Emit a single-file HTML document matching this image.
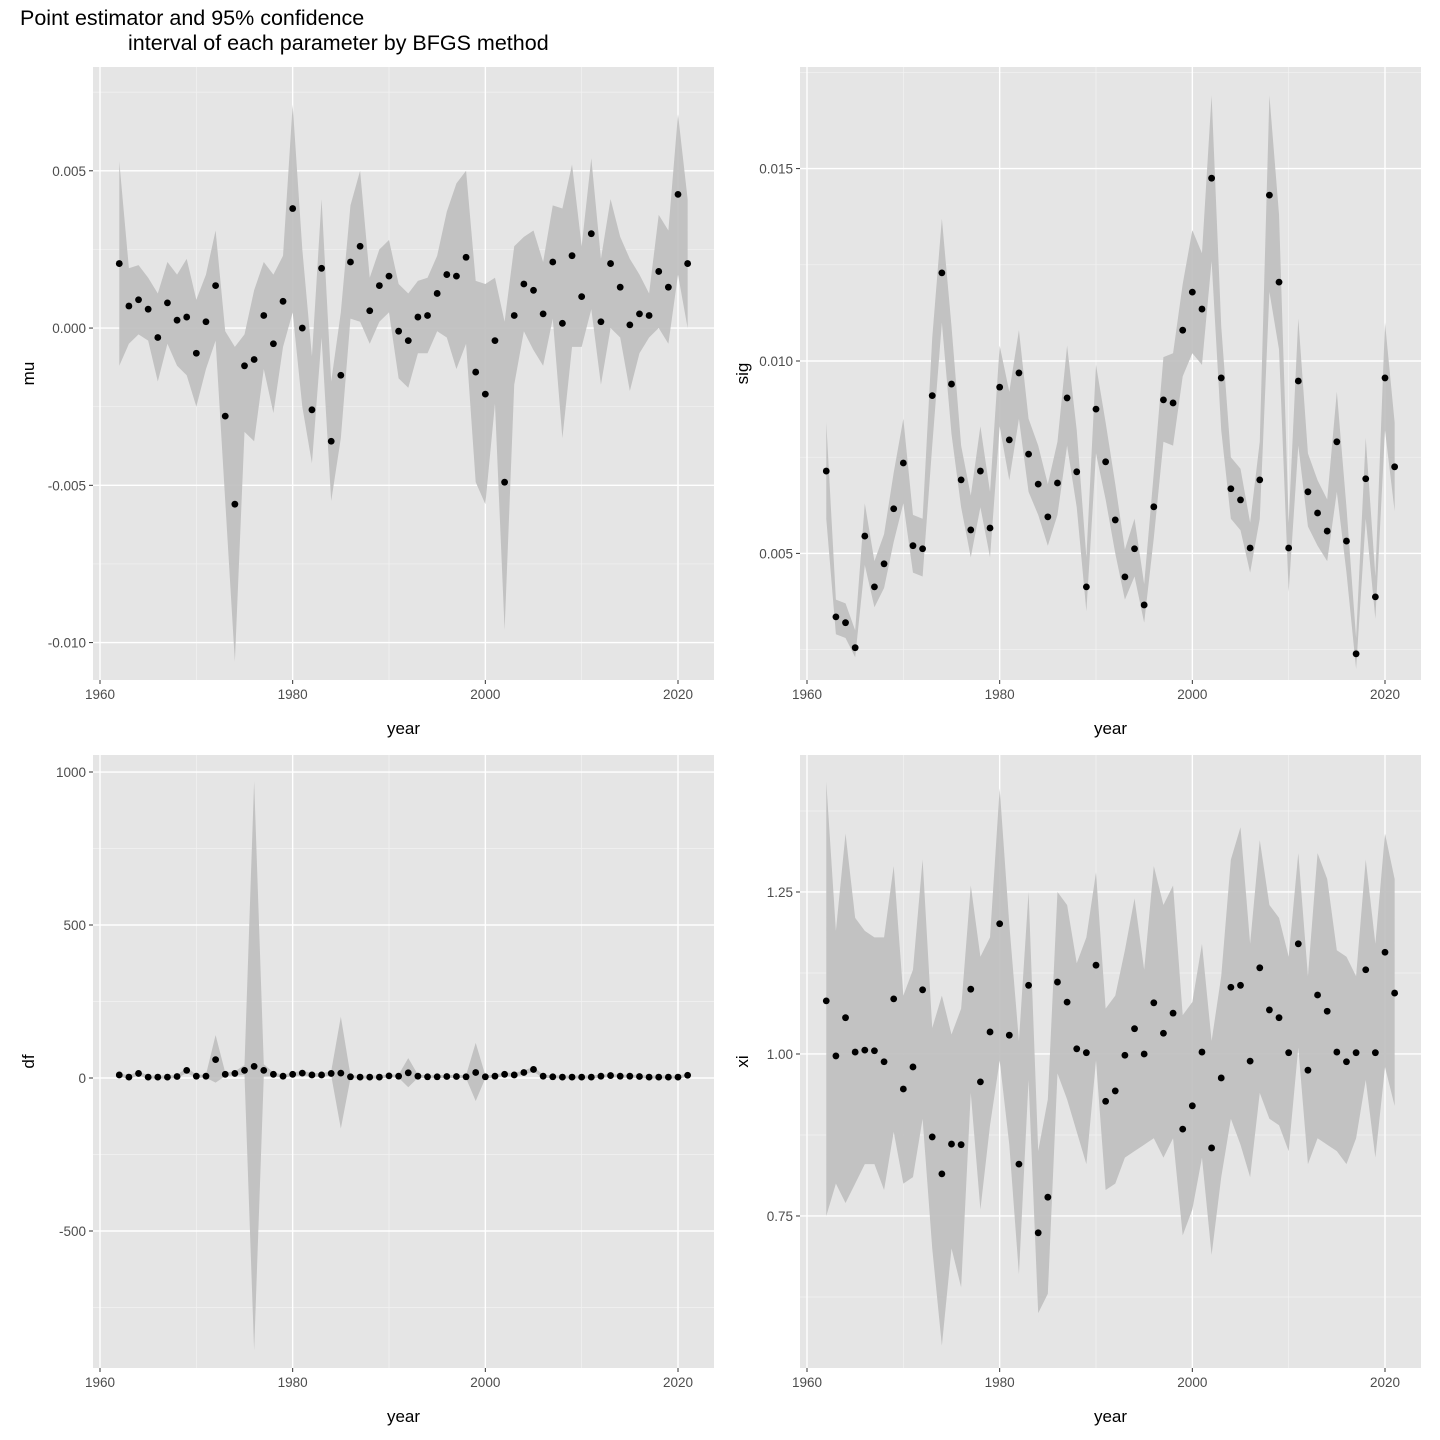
<!DOCTYPE html>
<html><head><meta charset="utf-8">
<style>
body{margin:0;background:#fff;}
svg{display:block;font-family:"Liberation Sans",Arial,sans-serif;}
</style></head>
<body>
<svg id="chart" width="1440" height="1440" viewBox="0 0 1440 1440">
<rect width="1440" height="1440" fill="#fff"/>
<text x="20" y="25" font-size="21.5" fill="#000">Point estimator and 95% confidence</text>
<text x="128" y="50" font-size="21.5" fill="#000">interval of each parameter by BFGS method</text>
</svg>
<script>
const years = [];
for (let y = 1962; y <= 2021; y++) years.push(y);

const muPoint = [0.00205,0.0007,0.0009,0.0006,-0.0003,0.0008,0.00025,0.00035,-0.0008,0.0002,0.00135,-0.0028,-0.0056,-0.0012,-0.001,0.0004,-0.0005,0.00085,0.0038,0.0,-0.0026,0.0019,-0.0036,-0.0015,0.0021,0.0026,0.00055,0.00135,0.00165,-0.0001,-0.0004,0.00035,0.0004,0.0011,0.0017,0.00165,0.00225,-0.0014,-0.0021,-0.0004,-0.0049,0.0004,0.0014,0.0012,0.00045,0.0021,0.00015,0.0023,0.001,0.003,0.0002,0.00205,0.0013,0.0001,0.00045,0.0004,0.0018,0.0013,0.00425,0.00205];
const muUpper = [0.0053,0.0019,0.002,0.0016,0.0011,0.0021,0.0017,0.0022,0.0009,0.0017,0.0031,-0.0001,-0.0006,-0.0002,0.0012,0.0021,0.0017,0.0023,0.0071,0.0025,-0.0009,0.0041,-0.0017,0.0005,0.0039,0.005,0.0016,0.0025,0.0028,0.0014,0.0011,0.0015,0.0016,0.0023,0.0037,0.0046,0.005,0.0015,0.0014,0.0016,0.0002,0.0026,0.0029,0.0031,0.0021,0.0039,0.0038,0.0052,0.0026,0.0054,0.0022,0.0041,0.0029,0.0022,0.0017,0.0011,0.0036,0.0031,0.0068,0.0041];
const muLower = [-0.0012,-0.0005,-0.0002,-0.0004,-0.0017,-0.0005,-0.0012,-0.0015,-0.0025,-0.0013,-0.0004,-0.0055,-0.0106,-0.0033,-0.0036,-0.0013,-0.0027,-0.0006,0.0005,-0.0025,-0.0043,-0.0003,-0.0055,-0.0035,0.0003,0.0002,-0.0005,0.0002,0.0005,-0.0016,-0.0019,-0.0008,-0.0008,-0.0001,-0.0003,-0.0013,-0.0005,-0.0049,-0.0056,-0.0024,-0.0096,-0.0018,-0.0001,-0.0007,-0.0012,0.0003,-0.0035,-0.0006,-0.0006,0.0006,-0.0018,0.0,-0.0003,-0.002,-0.0008,-0.0003,0.0,-0.0005,0.0017,0.0];

const sigPoint = [0.00714,0.00335,0.0032,0.00255,0.00545,0.00413,0.00473,0.00616,0.00735,0.0052,0.00512,0.0091,0.01229,0.0094,0.00691,0.00561,0.00714,0.00566,0.00932,0.00795,0.00969,0.00758,0.0068,0.00595,0.00683,0.00904,0.00712,0.00413,0.00875,0.00738,0.00587,0.00439,0.00512,0.00366,0.00621,0.00899,0.00891,0.0108,0.01179,0.01135,0.01475,0.00956,0.00668,0.00639,0.00514,0.00691,0.01431,0.01205,0.00514,0.00948,0.0066,0.00605,0.00558,0.0079,0.00532,0.00239,0.00694,0.00387,0.00956,0.00725];
const sigUpper = [0.0084,0.0038,0.0037,0.0030,0.0063,0.0048,0.0055,0.0071,0.0085,0.0060,0.0059,0.0106,0.0137,0.0109,0.0078,0.0065,0.0083,0.0066,0.0104,0.0092,0.0108,0.0085,0.0078,0.0068,0.0079,0.0104,0.0082,0.0049,0.0099,0.0084,0.0068,0.0051,0.0059,0.0042,0.0071,0.0101,0.0102,0.0120,0.0134,0.0128,0.0169,0.0109,0.0075,0.0072,0.0058,0.0079,0.0169,0.0138,0.0058,0.0111,0.0076,0.0069,0.0064,0.0092,0.0062,0.0028,0.0080,0.0044,0.0110,0.0084];
const sigLower = [0.0059,0.0029,0.0028,0.0023,0.0047,0.0036,0.0041,0.0053,0.0063,0.0045,0.0044,0.0078,0.0110,0.0081,0.0062,0.0049,0.0062,0.0049,0.0083,0.0069,0.0085,0.0066,0.0060,0.0052,0.0060,0.0078,0.0062,0.0035,0.0076,0.0064,0.0050,0.0038,0.0044,0.0032,0.0054,0.0079,0.0078,0.0096,0.0102,0.0099,0.0126,0.0082,0.0059,0.0056,0.0045,0.0059,0.0118,0.0103,0.0040,0.0078,0.0057,0.0052,0.0048,0.0066,0.0045,0.0020,0.0059,0.0033,0.0082,0.0061];

const dfPoint = [10,3,15,3,3,3,5,25,6,6,60,12,15,25,38,25,12,6,12,16,10,10,15,16,4,3,3,3,7,6,17,6,4,4,5,5,4,18,4,6,12,10,18,28,6,4,3,3,3,3,6,8,6,6,5,3,3,3,3,9];
const dfUpper = [16,8,22,8,8,8,10,34,11,11,140,18,22,42,970,45,18,11,18,24,16,16,22,200,9,8,8,8,12,11,65,11,9,9,10,10,9,115,9,11,18,16,25,36,11,9,8,8,8,8,11,13,11,11,10,8,8,8,8,14];
const dfLower = [4,-2,8,-2,-2,-2,0,16,1,1,-15,6,8,10,-890,5,6,1,6,8,4,4,8,-165,-1,-2,-2,-2,2,1,-30,1,-1,-1,0,0,-1,-75,-1,1,6,4,11,20,1,-1,-2,-2,-2,-2,1,3,1,1,0,-2,-2,-2,-2,4];

const xiPoint = [1.082,0.997,1.056,1.003,1.006,1.005,0.988,1.085,0.946,0.98,1.099,0.872,0.815,0.861,0.86,1.1,0.957,1.034,1.201,1.029,0.83,1.106,0.724,0.779,1.111,1.08,1.008,1.002,1.137,0.927,0.943,0.998,1.039,1.0,1.079,1.032,1.063,0.884,0.92,1.003,0.855,0.963,1.103,1.106,0.989,1.133,1.068,1.056,1.002,1.17,0.975,1.091,1.066,1.003,0.988,1.002,1.13,1.002,1.157,1.094];
const xiUpper = [1.42,1.19,1.34,1.21,1.19,1.18,1.18,1.29,1.09,1.13,1.30,1.04,1.09,1.03,1.07,1.26,1.15,1.18,1.41,1.20,1.02,1.25,0.85,0.93,1.25,1.23,1.14,1.18,1.28,1.07,1.09,1.16,1.24,1.13,1.29,1.23,1.26,1.06,1.08,1.17,1.02,1.12,1.30,1.35,1.17,1.33,1.23,1.21,1.15,1.31,1.12,1.31,1.27,1.16,1.15,1.12,1.30,1.17,1.34,1.27];
const xiLower = [0.75,0.80,0.77,0.80,0.83,0.83,0.79,0.88,0.80,0.81,0.90,0.70,0.55,0.70,0.64,0.94,0.76,0.89,0.99,0.86,0.66,0.96,0.60,0.63,0.97,0.93,0.88,0.83,0.99,0.79,0.80,0.84,0.85,0.86,0.87,0.84,0.87,0.72,0.76,0.84,0.69,0.81,0.90,0.86,0.81,0.94,0.90,0.89,0.85,1.01,0.83,0.87,0.86,0.85,0.83,0.87,0.96,0.84,0.98,0.92];

const xTicks = [1960,1980,2000,2020];
const xMinor = [1970,1990,2010];
const muTicks = [0.005,0.000,-0.005,-0.010];
const muTickLabels = ["0.005","0.000","-0.005","-0.010"];
const muMinor = [0.0075,0.0025,-0.0025,-0.0075];
const sigTicks = [0.015,0.010,0.005];
const sigTickLabels = ["0.015","0.010","0.005"];
const sigMinor = [0.0175,0.0125,0.0075,0.0025];
const dfTicks = [1000,500,0,-500];
const dfTickLabels = ["1000","500","0","-500"];
const dfMinor = [750,250,-250,-750];
const xiTicks = [1.25,1.00,0.75];
const xiTickLabels = ["1.25","1.00","0.75"];
const xiMinor = [1.375,1.125,0.875,0.625];

const NS = "http://www.w3.org/2000/svg";
const svg = document.getElementById("chart");
function mk(tag, attrs, parent) {
  const e = document.createElementNS(NS, tag);
  for (const k in attrs) e.setAttribute(k, attrs[k]);
  (parent || svg).appendChild(e);
  return e;
}

function panel(cfg) {
  const g = mk("g", {});
  
  
  const L = cfg.left, R = cfg.right, T = cfg.top, B = cfg.bottom;
  const xs = v => L + (v - cfg.xmin) / (cfg.xmax - cfg.xmin) * (R - L);
  const ys = v => B - (v - cfg.ymin) / (cfg.ymax - cfg.ymin) * (B - T);
  const bg = mk("rect", {x: L, y: T, width: R - L, height: B - T, fill: "#e5e5e5"}, g);
  
  
  cfg.yMinor.forEach(v => mk("line", {x1: L, x2: R, y1: ys(v), y2: ys(v), stroke: "#f2f2f2", "stroke-width": 0.7}, g));
  xMinor.forEach(v => mk("line", {x1: xs(v), x2: xs(v), y1: T, y2: B, stroke: "#f2f2f2", "stroke-width": 0.7}, g));
  cfg.yTicks.forEach(v => mk("line", {x1: L, x2: R, y1: ys(v), y2: ys(v), stroke: "#fff", "stroke-width": 1.4}, g));
  xTicks.forEach(v => mk("line", {x1: xs(v), x2: xs(v), y1: T, y2: B, stroke: "#fff", "stroke-width": 1.4}, g));
  let d = "";
  years.forEach((yr, i) => { d += (i ? "L" : "M") + xs(yr).toFixed(2) + "," + ys(cfg.upper[i]).toFixed(2); });
  for (let i = years.length - 1; i >= 0; i--) d += "L" + xs(years[i]).toFixed(2) + "," + ys(cfg.lower[i]).toFixed(2);
  const rib = mk("path", {d: d + "Z", fill: "#bebebe", "fill-opacity": 0.9}, g);
  
  
  years.forEach((yr, i) => {
    const c = mk("circle", {cx: xs(yr), cy: ys(cfg.point[i]), r: 3.4, fill: "#000"}, g);
    
    
  });
  cfg.yTicks.forEach((v, i) => {
    mk("line", {x1: L - 4, x2: L, y1: ys(v), y2: ys(v), stroke: "#333", "stroke-width": 1}, g);
    const t = mk("text", {x: L - 7, y: ys(v) + 5, "text-anchor": "end", "font-size": 13.5, fill: "#4d4d4d"}, g);
    t.textContent = cfg.yLabels[i];
    
    
  });
  xTicks.forEach(v => {
    mk("line", {x1: xs(v), x2: xs(v), y1: B, y2: B + 4, stroke: "#333", "stroke-width": 1}, g);
    const t = mk("text", {x: xs(v), y: B + 19, "text-anchor": "middle", "font-size": 13.5, fill: "#4d4d4d"}, g);
    t.textContent = String(v);
    
    
  });
  const xt = mk("text", {x: (L + R) / 2, y: B + 54, "text-anchor": "middle", "font-size": 17, fill: "#000"}, g);
  xt.textContent = "year";
  
  
  const yx = cfg.ytitleX, yy = (T + B) / 2;
  const yt = mk("text", {x: yx, y: yy, "text-anchor": "middle", "font-size": 17, fill: "#000", transform: "rotate(-90 " + yx + " " + yy + ")"}, g);
  yt.textContent = cfg.name;
  
  
}

const xmin = 1960 - (100 - 93) / 9.633;
const xmax = 2020 + (714 - 678) / 9.633;
panel({name: "mu", left: 93, right: 714, top: 67, bottom: 680, xmin: xmin, xmax: xmax, ymin: -0.01119, ymax: 0.0083,
  yTicks: muTicks, yLabels: muTickLabels, yMinor: muMinor, point: muPoint, upper: muUpper, lower: muLower, ytitleX: 34});
panel({name: "sig", left: 800, right: 1421, top: 67, bottom: 680, xmin: xmin, xmax: xmax, ymin: 0.00171, ymax: 0.01764,
  yTicks: sigTicks, yLabels: sigTickLabels, yMinor: sigMinor, point: sigPoint, upper: sigUpper, lower: sigLower, ytitleX: 748});
panel({name: "df", left: 93, right: 714, top: 755, bottom: 1368, xmin: xmin, xmax: xmax, ymin: -947.7, ymax: 1055.6,
  yTicks: dfTicks, yLabels: dfTickLabels, yMinor: dfMinor, point: dfPoint, upper: dfUpper, lower: dfLower, ytitleX: 34});
panel({name: "xi", left: 800, right: 1421, top: 755, bottom: 1368, xmin: xmin, xmax: xmax, ymin: 0.5154, ymax: 1.4614,
  yTicks: xiTicks, yLabels: xiTickLabels, yMinor: xiMinor, point: xiPoint, upper: xiUpper, lower: xiLower, ytitleX: 748});
</script>
</body></html>
